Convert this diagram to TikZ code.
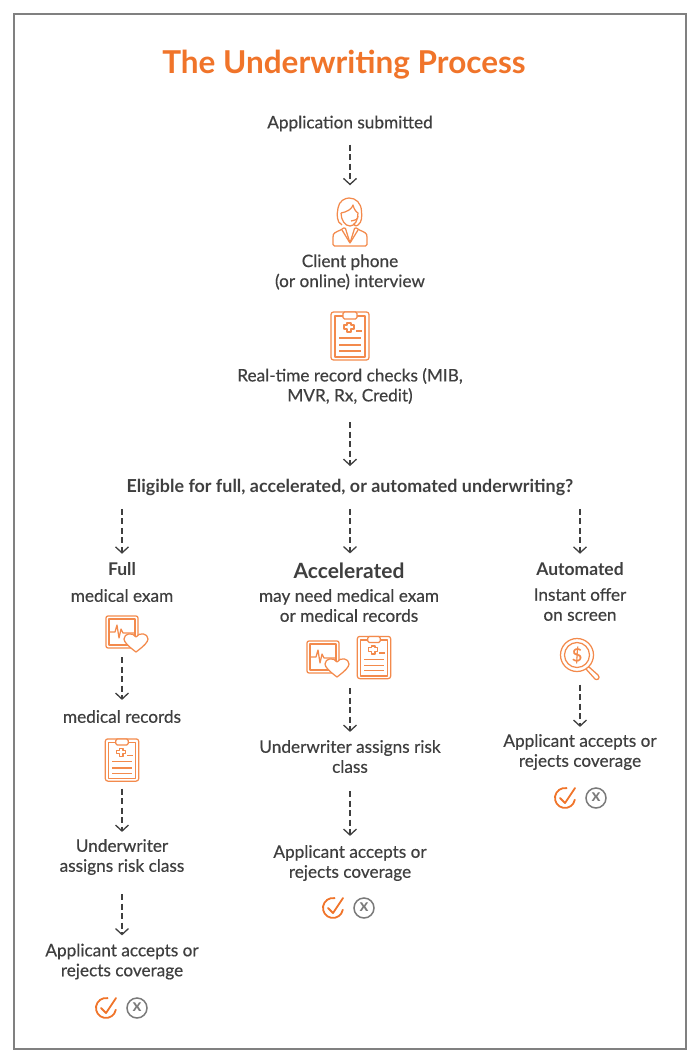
\documentclass[tikz,border=0pt]{standalone}
\usepackage{fontspec}
\setmainfont{Lato}[UprightFeatures={RawFeature={embolden=0.5}}]
\usetikzlibrary{arrows.meta}
\definecolor{inktext}{HTML}{3F3F3F}
\definecolor{brand}{HTML}{F0742A}
\definecolor{brandicon}{HTML}{F38A4C}
\definecolor{framegray}{HTML}{808080}
\definecolor{nogray}{HTML}{7A7A7A}
\tikzset{
    clipboard/.pic={
        \node[minimum width=38,minimum height=49,inner sep=0,transform shape] (-box) at (0,0) {};
        \draw[iconline,rounded corners=2.5pt] (-19,-24) rectangle (19,24);
        \draw[iconline] (-15,-20) rectangle (15,21);
        \draw[iconline,fill=white,rounded corners=1.5pt] (-7,-24) rectangle (7,-17);
        \draw[iconline] (-3,-13) -- (-3,-11) -- (-6,-11) -- (-6,-7) -- (-3,-7) -- (-3,-4) -- (1,-4) -- (1,-7) -- (4,-7) -- (4,-11) -- (1,-11) -- (1,-13) -- cycle;
        \draw[iconline] (6,-5) -- (12,-5);
        \foreach \ly in {2,9,15}
            \draw[iconline] (-11,\ly) -- (11,\ly);
    },
    monitor/.pic={
        \node[minimum width=42,minimum height=40,inner sep=0] (-box) at (5,2) {};
        \draw[iconline,rounded corners=2pt] (-16,-16) rectangle (16,16);
        \draw[iconline] (-13,-13) rectangle (13,13);
        \draw[iconline] (-13,0) -- (-7,0) -- (-5,-7) -- (-3,6) -- (-1,-3) -- (1,1) -- (13,1);
        \draw[iconline,fill=white] (14,20) .. controls (6,14) and (2,10) .. (2,7) .. controls (2,1) and (11,0) .. (14,5) .. controls (17,0) and (26,1) .. (26,7) .. controls (26,10) and (22,14) .. (14,20) -- cycle;
    },
    agent/.pic={
        \node[minimum width=36,minimum height=49,inner sep=0] (-box) at (0,0) {};
        \draw[iconline] (-8,3) .. controls (-14,0) and (-13,-8) .. (-12,-14) .. controls (-11,-21) and (-5,-24) .. (-1,-24) .. controls (6,-24) and (11,-19) .. (11.5,-11) .. controls (12,-5) and (12,0) .. (8,3) .. controls (6,5) and (3,3) .. (4,1);
        \draw[iconline] (-9,-9) .. controls (-3,-10) and (2,-13) .. (3,-17) .. controls (4,-13) and (6,-10) .. (8,-9) .. controls (8,-2) and (5,4) .. (0,4) .. controls (-5,4) and (-9,-2) .. (-9,-9);
        \draw[iconline] (8,-6) .. controls (8,-2) and (5,-2) .. (1,-1);
        \draw[iconline,rounded corners=1.5pt] (-17,24) -- (-17,14) .. controls (-16,10) and (-10,9) .. (-5,5) -- (0,21) -- (5,5) .. controls (10,9) and (16,10) .. (17,14) -- (17,24) -- cycle;
        \draw[iconline] (-8,8) -- (0,21) -- (8,8);
    },
    lens/.pic={
        \node[minimum width=42,minimum height=41,inner sep=0] (-box) at (4,4) {};
        \draw[iconline] (11,12) -- (12,12) -- (21,20) .. controls (24,23) and (20,26) .. (18,24) -- (9,14);
        \draw[iconline,fill=white] (0,0) circle (16.5);
        \draw[iconline] (0,0) circle (12.5);
        \node[text=brandicon,inner sep=0,font=\fontsize{18}{18}\selectfont] (-sign) at (0,0) {\$};
    },
    yescheck/.pic={
        \draw[brand,line width=1.8pt,line cap=round] (9.8,1.7) arc[start angle=-10,end angle=-280,radius=10pt];
        \draw[brand,line width=1.8pt,line cap=round,line join=round] (-5,0) -- (0,5) -- (10,-10);
    },
    nocross/.pic={
        \draw[nogray,line width=1.5pt] (0,0) circle (10);
        \node[text=nogray,inner sep=0,font=\fontsize{17}{17}\selectfont\bfseries] (-x) at (0,-1) {x};
    },
}
\begin{document}
\begin{tikzpicture}
[   x=1pt,y=-1pt,
    iconline/.style={draw=brandicon,line width=1.25pt,line join=round},
    txt/.style={text=inktext,inner sep=0,align=center,font=\fontsize{17.2}{20}\selectfont},
    head/.style={txt,font=\fontsize{17.5}{20}\selectfont\bfseries},
    flow/.style 2 args={draw=inktext,line width=1.3pt,dash pattern=on 6pt off 3.5pt,-{Straight Barb[length=6pt,width=13pt,line width=1.3pt]},shorten <=#1,shorten >=#2},
]
\useasboundingbox (0,0) rectangle (700,1063);
\draw[framegray,line width=2pt] (14,14) rectangle (686,1049);
\node[inner sep=0,text=brand,font=\fontsize{31.5}{36}\selectfont\bfseries] (title) at (344,65) {The Underwriting Process};

%%%%%%%%%%%%%%%%%%%% COMMON STEPS %%%%%%%%%%%%%%%%%%%%%%%%%%%%%%%%%%%
\node[txt] (submitted) at (350,123.5) {Application submitted};
\pic (phone) at (350,222) {agent};
\node[txt] (interview) at (350,272) {Client phone\\(or online) interview};
\pic (checks) at (350,336) {clipboard};
\node[txt] (realtime) at (350,386) {Real-time record checks (MIB,\\MVR, Rx, Credit)};
\node[head,font=\fontsize{17.9}{20}\selectfont\bfseries] (eligible) at (350,487.5) {Eligible for full, accelerated, or automated underwriting?};
\draw[flow={13}{12}] (submitted) -- (phone-box);
\draw[flow={18}{13}] (realtime) -- (eligible);

%%%%%%%%%%%%%%%%%%%% FULL %%%%%%%%%%%%%%%%%%%%%%%%%%%%%%%%%%%
\node[head] (full) at (122,569.5) {Full};
\node[txt] (fullexam) at (122,595.5) {medical exam};
\pic (fullmon) at (122,632) {monitor};
\node[txt] (fullrec) at (122,716.5) {medical records};
\pic[scale=.88] (fullclip) at (122,760) {clipboard};
\node[txt] (fullrisk) at (122,857) {Underwriter\\assigns risk class};
\node[txt] (fullaccept) at (122,961.5) {Applicant accepts or\\rejects coverage};
\draw[flow={13}{9}] (eligible.south -| full) -- (full);
\draw[flow={3}{10}] (fullmon-box.south -| fullexam) -- (fullrec);
\draw[flow={7}{7}] (fullclip-box) -- (fullrisk);
\draw[flow={19}{8}] (fullrisk) -- (fullaccept);

%%%%%%%%%%%%%%%%%%%% ACCELERATED %%%%%%%%%%%%%%%%%%%%%%%%%%%%%%%%%%%
\node[head,font=\fontsize{21}{24}\selectfont\bfseries] (accel) at (349,570.5) {Accelerated};
\node[txt] (accelneed) at (349,605.5) {may need medical exam\\or medical records};
\pic (accelmon) at (323,657) {monitor};
\pic[scale=.88] (accelclip) at (374,657.5) {clipboard};
\node[txt] (accelrisk) at (350,756.5) {Underwriter assigns risk\\class};
\node[txt] (accelaccept) at (350,863) {Applicant accepts or\\rejects coverage};
\draw[flow={13}{9}] (eligible.south -| accelrisk) -- (accelrisk |- accel.north);
\draw[flow={9}{8}] (accelrisk |- accelclip-box.south) -- (accelrisk);
\draw[flow={18}{9}] (accelrisk) -- (accelaccept);

%%%%%%%%%%%%%%%%%%%% AUTOMATED %%%%%%%%%%%%%%%%%%%%%%%%%%%%%%%%%%%
\node[head] (auto) at (580,569.5) {Automated};
\node[txt] (autooffer) at (580,604.5) {Instant offer\\on screen};
\pic (autolens) at (577,655) {lens};
\node[txt] (autoaccept) at (580,752) {Applicant accepts or\\rejects coverage};
\draw[flow={13}{9}] (eligible.south -| auto) -- (auto);
\draw[flow={5}{7}] (autoaccept |- autolens-box.south) -- (autoaccept);

%%%%%%%%%%%%%%%%%%%% ACCEPT OR REJECT %%%%%%%%%%%%%%%%%%%%%%%%%%%%%%%%%%%
\foreach \k/\ax/\ay in {full/106/1008,accel/333/908,auto/565/798}
{
    \pic (\k yes) at (\ax,\ay) {yescheck};
    \pic (\k no) at ({\ax+31},\ay) {nocross};
}

\end{tikzpicture}
\end{document}
